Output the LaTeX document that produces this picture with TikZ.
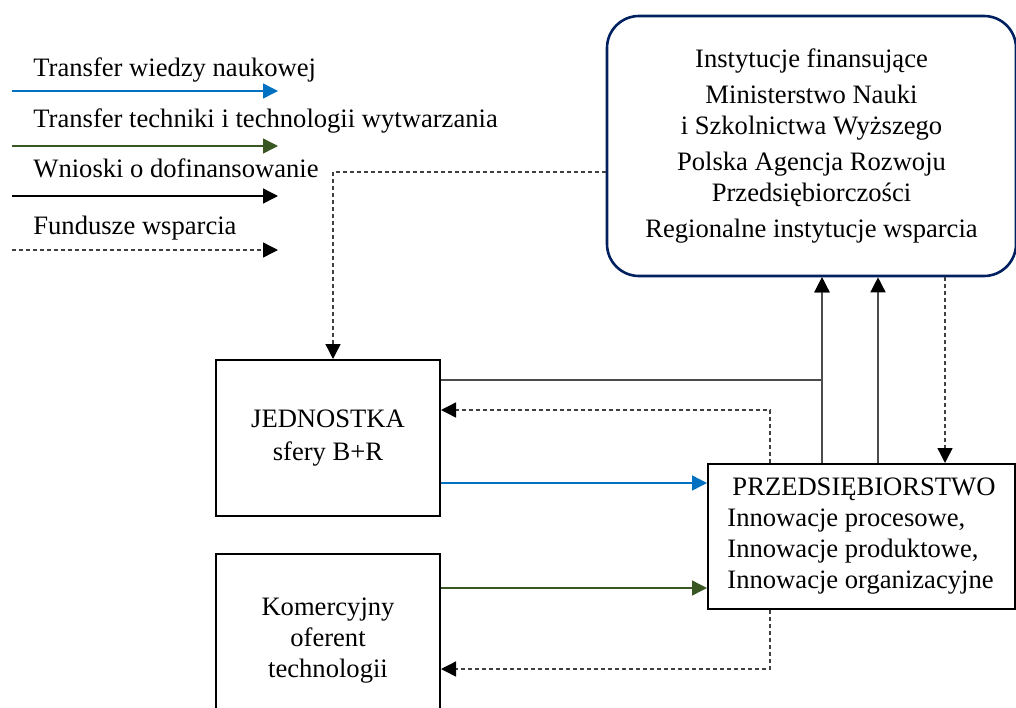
\documentclass[tikz,border=0pt]{standalone}
\usepackage{fontspec}
\setmainfont{Liberation Serif}
\usetikzlibrary{arrows.meta}
\definecolor{wiedzacol}{RGB}{0,112,192}
\definecolor{technikacol}{RGB}{56,87,35}
\definecolor{ramka}{RGB}{0,32,96}

\begin{document}
\begin{tikzpicture}[x=0.5pt, y=-0.5pt,
    font=\fontsize{13.3}{15.5}\selectfont,
    box/.style={draw=black, line width=1pt, inner sep=2pt}, % jednostki i firma
    finbox/.style={draw=ramka, line width=1.3pt, rounded corners=16pt,
                   align=center}, % instytucje
    legtxt/.style={anchor=base west, inner sep=0pt},
    wiedza/.style={draw=wiedzacol, line width=0.7pt,
                   -{Triangle[length=7.5pt, width=7.5pt]}},
    technika/.style={draw=technikacol, line width=0.7pt,
                     -{Triangle[length=7.5pt, width=7.5pt]}},
    wniosek/.style={draw=black!70, line width=0.7pt,
                    -{Triangle[length=7.5pt, width=7.5pt, black]}},
    legwniosek/.style={wniosek, draw=black},
    fundusz/.style={draw=black!75, line width=0.7pt,
                    dash pattern=on 2pt off 1.5pt,
                    -{Triangle[length=7.5pt, width=7.5pt, black]}},
  ]
  \useasboundingbox (0,0) rectangle (1016,707);

  % legenda
  \node[legtxt] (leg1) at (33,76) {Transfer wiedzy naukowej};
  \node[legtxt] (leg2) at (33,127) {Transfer techniki i technologii wytwarzania};
  \node[legtxt] (leg3) at (33,177) {Wnioski o dofinansowanie};
  \node[legtxt] (leg4) at (33,234) {Fundusze wsparcia};
  \coordinate (lega1) at (12,91);  \coordinate (legb1) at (278,91);
  \coordinate (lega2) at (12,146); \coordinate (legb2) at (278,146);
  \coordinate (lega3) at (12,196); \coordinate (legb3) at (278,196);
  \coordinate (lega4) at (12,250); \coordinate (legb4) at (278,250);
  \draw[wiedza] (lega1) -- (legb1);
  \draw[technika] (lega2) -- (legb2);
  \draw[legwniosek] (lega3) -- (legb3);
  \draw[fundusz] (lega4) -- (legb4);

  % bloki
  \node[finbox, minimum width=204.5pt, minimum height=130pt] (fin) at (811.5,146)
    {Instytucje finansujące\\[2.5pt]
     Ministerstwo Nauki\\
     i Szkolnictwa Wyższego\\[2.5pt]
     Polska Agencja Rozwoju\\
     Przedsiębiorczości\\[2.5pt]
     Regionalne instytucje wsparcia};
  \node[box, align=center, minimum width=112pt, minimum height=78pt] (jed) at (328,438)
    {JEDNOSTKA\\[1pt] sfery B+R};
  \node[box, align=left, minimum width=153.5pt, minimum height=72.5pt] (prz) at (861.5,536.5)
    {\hspace*{2.5pt}PRZEDSIĘBIORSTWO\\
     Innowacje procesowe,\\
     Innowacje produktowe,\\
     Innowacje organizacyjne};
  \node[box, align=center, minimum width=112pt, minimum height=87pt] (kom) at (328,641)
    {Komercyjny\\ oferent\\ technologii};

  % punkty pomocnicze
  \coordinate (w1) at ([xshift=5.25pt]fin.south);
  \coordinate (w2) at ([xshift=33.25pt]fin.south);
  \coordinate (f1) at ([xshift=66.75pt]fin.south);
  \coordinate (b1) at ([yshift=-22.5pt]jed.east);
  \coordinate (t1) at ([yshift=26.5pt]kom.east);

  % polaczenia
  \draw[fundusz] ([yshift=-13pt]fin.west) -| ([xshift=2.5pt]jed.north);
  \draw[wniosek] ([yshift=29pt]jed.east) -| (w1);
  \draw[wniosek] (prz.north -| w1) -- (w1);
  \draw[wniosek] (prz.north -| w2) -- (w2);
  \draw[fundusz] (f1) -- (prz.north -| f1);
  \draw[fundusz] ([xshift=-45.75pt]prz.north) |- ([yshift=14pt]jed.east);
  \draw[wiedza] (b1) -- (b1 -| prz.west);
  \draw[technika] (t1) -- (t1 -| prz.west);
  \draw[fundusz] ([xshift=-45.75pt]prz.south) |- ([yshift=-14pt]kom.east);
  % \draw[wniosek] (kom.north) -- (jed.south);
\end{tikzpicture}
\end{document}
